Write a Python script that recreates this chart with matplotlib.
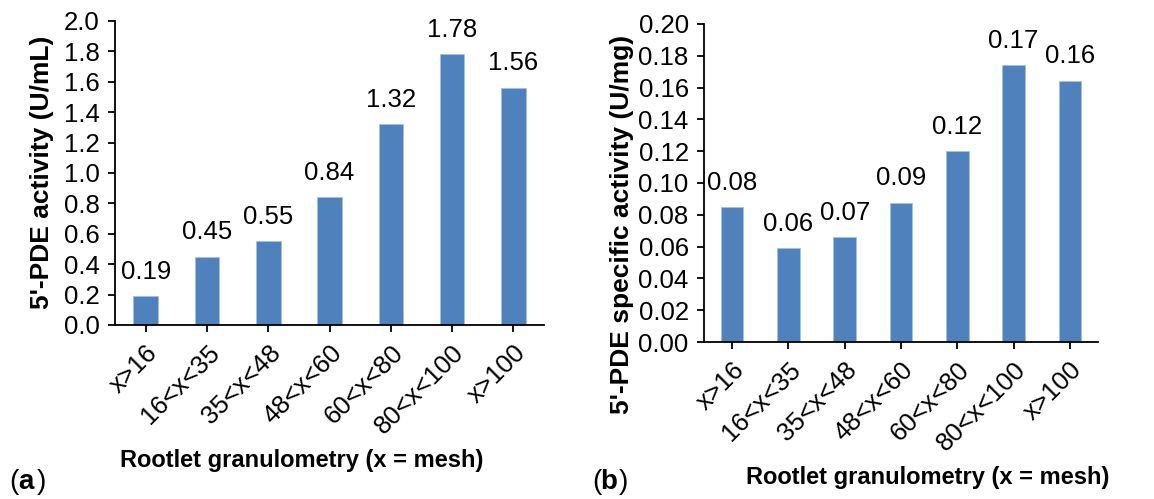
import matplotlib
matplotlib.use("Agg")
import matplotlib.pyplot as plt

# --- datos ---
categorias = ['x>16', '16<x<35', '35<x<48', '48<x<60', '60<x<80', '80<x<100', 'x>100']
actividad = [0.19, 0.45, 0.55, 0.84, 1.32, 1.78, 1.56]                       # U/mL
actividad_esp = [0.0848, 0.059, 0.066, 0.0875, 0.120, 0.174, 0.1644]         # U/mg

AZUL = '#4F81BD'
plt.rcParams['font.family'] = ['Liberation Sans', 'DejaVu Sans']

fig = plt.figure(figsize=(11.54, 4.99), dpi=100)
ax_a = fig.add_axes([0.0997, 0.3487, 0.3717, 0.6093])
ax_b = fig.add_axes([0.6100, 0.3146, 0.3415, 0.6374])


def dibujar(ax, valores, ymax, paso, fmt_tick, fmt_etq):
    x = range(len(categorias))
    barras = ax.bar(x, valores, width=0.4, color=AZUL, edgecolor='#A7C0DE', linewidth=0.6)
    for b, v in zip(barras, valores):
        ax.annotate(fmt_etq % v, (b.get_x() + b.get_width() / 2, v), xytext=(0, 9),
                    textcoords='offset points', ha='center', va='bottom', fontsize=18.5)
    ax.set_xlim(-0.5, len(categorias) - 0.5)
    ax.set_ylim(0, ymax)
    n = int(round(ymax / paso))
    ticks = [i * paso for i in range(n + 1)]
    ax.set_yticks(ticks)
    ax.set_yticklabels([fmt_tick % t for t in ticks])
    ax.set_xticks(list(x))
    ax.set_xticklabels(categorias, rotation=45, ha='right', rotation_mode='anchor')
    for s in ['top', 'right']:
        ax.spines[s].set_visible(False)
    for s in ['left', 'bottom']:
        ax.spines[s].set_linewidth(1.3)
    ax.tick_params(axis='y', direction='out', length=5, width=1.3, labelsize=18.5, pad=6)
    ax.tick_params(axis='x', direction='out', length=5, width=1.3, labelsize=18.5, pad=6)


dibujar(ax_a, actividad, 2.0, 0.2, '%.1f', '%.2f')
dibujar(ax_b, actividad_esp, 0.20, 0.02, '%.2f', '%.2f')

# etiquetas de ejes
fig.text(0.036, 0.655, "5'-PDE activity (U/mL)", rotation=90, ha='center', va='center',
         fontsize=19, fontweight='bold')
fig.text(0.539, 0.55, "5'-PDE specific activity (U/mg)", rotation=90, ha='center', va='center',
         fontsize=19, fontweight='bold')
fig.text(0.261, 0.078, 'Rootlet granulometry (x = mesh)', ha='center', va='center',
         fontsize=17, fontweight='bold')
fig.text(0.804, 0.044, 'Rootlet granulometry (x = mesh)', ha='center', va='center',
         fontsize=17, fontweight='bold')

# letras de panel
for x0, letra in [(0.008, 'a'), (0.513, 'b')]:
    fig.text(x0, 0.034, '(', ha='left', va='center', fontsize=20)
    fig.text(x0 + 0.0075, 0.034, letra, ha='left', va='center', fontsize=20, fontweight='bold')
    fig.text(x0 + 0.0235, 0.034, ')', ha='left', va='center', fontsize=20)

fig.savefig('out.png', dpi=100)
